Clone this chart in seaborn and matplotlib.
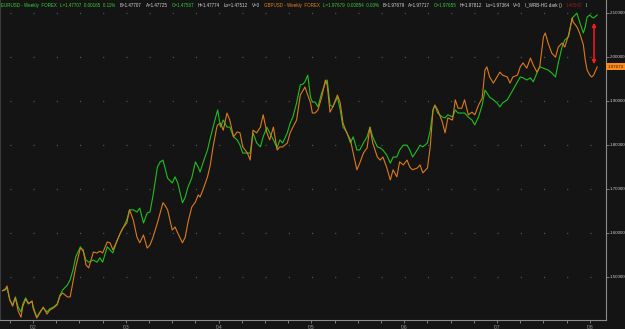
import matplotlib
matplotlib.use("Agg")
import matplotlib.pyplot as plt
import matplotlib.transforms as mtransforms
from matplotlib import font_manager
import pandas as pd
import seaborn as sns

# ---------------- data ----------------
years = [2001.67, 2001.70, 2001.72, 2001.75, 2001.78, 2001.81, 2001.84, 2001.87, 2001.89, 2001.92,
         2001.95, 2001.99, 2002.00, 2002.04, 2002.08, 2002.11, 2002.15, 2002.18, 2002.22, 2002.26,
         2002.29, 2002.32, 2002.37, 2002.40, 2002.43, 2002.46, 2002.51, 2002.54, 2002.57, 2002.60,
         2002.65, 2002.69, 2002.72, 2002.75, 2002.80, 2002.83, 2002.86, 2002.90, 2002.94, 2002.97,
         2003.01, 2003.04, 2003.08, 2003.12, 2003.15, 2003.19, 2003.23, 2003.26, 2003.29, 2003.34,
         2003.37, 2003.40, 2003.42, 2003.45, 2003.50, 2003.53, 2003.56, 2003.61, 2003.64, 2003.67,
         2003.71, 2003.75, 2003.78, 2003.80, 2003.83, 2003.88, 2003.91, 2003.94, 2003.98, 2003.99,
         2004.02, 2004.05, 2004.09, 2004.12, 2004.16, 2004.20, 2004.23, 2004.26, 2004.31, 2004.34,
         2004.37, 2004.41, 2004.45, 2004.48, 2004.52, 2004.55, 2004.59, 2004.63, 2004.66, 2004.69,
         2004.74, 2004.77, 2004.80, 2004.84, 2004.88, 2004.91, 2004.93, 2004.96, 2004.99, 2005.01,
         2005.04, 2005.07, 2005.11, 2005.15, 2005.17, 2005.20, 2005.23, 2005.28, 2005.31, 2005.34,
         2005.38, 2005.42, 2005.45, 2005.49, 2005.52, 2005.56, 2005.60, 2005.63, 2005.66, 2005.71,
         2005.74, 2005.77, 2005.81, 2005.85, 2005.88, 2005.92, 2005.95, 2005.99, 2006.03, 2006.06,
         2006.09, 2006.14, 2006.17, 2006.20, 2006.25, 2006.28, 2006.31, 2006.33, 2006.36, 2006.41,
         2006.44, 2006.47, 2006.52, 2006.55, 2006.58, 2006.62, 2006.65, 2006.69, 2006.73, 2006.76,
         2006.80, 2006.84, 2006.87, 2006.89, 2006.92, 2006.96, 2007.00, 2007.03, 2007.06, 2007.11,
         2007.14, 2007.17, 2007.22, 2007.25, 2007.28, 2007.32, 2007.36, 2007.39, 2007.43, 2007.46,
         2007.50, 2007.52, 2007.55, 2007.59, 2007.63, 2007.66, 2007.70, 2007.73, 2007.77, 2007.81,
         2007.82, 2007.86, 2007.89, 2007.93, 2007.95, 2007.97, 2008.00, 2008.02, 2008.04, 2008.08]

# EURUSD (green), shown on the same price scale as the overlay
eurusd = [1.468, 1.470, 1.474, 1.447, 1.436, 1.454, 1.431, 1.420, 1.438, 1.452,
          1.440, 1.443, 1.433, 1.408, 1.422, 1.429, 1.420, 1.427, 1.431, 1.438,
          1.458, 1.470, 1.481, 1.493, 1.515, 1.545, 1.568, 1.558, 1.538, 1.533,
          1.538, 1.533, 1.543, 1.533, 1.568, 1.561, 1.554, 1.579, 1.599, 1.611,
          1.629, 1.652, 1.652, 1.647, 1.656, 1.622, 1.645, 1.647, 1.681, 1.749,
          1.761, 1.765, 1.749, 1.724, 1.713, 1.727, 1.713, 1.668, 1.681, 1.704,
          1.724, 1.761, 1.749, 1.738, 1.758, 1.788, 1.815, 1.840, 1.872, 1.879,
          1.840, 1.856, 1.840, 1.840, 1.818, 1.811, 1.799, 1.781, 1.781, 1.781,
          1.827, 1.804, 1.795, 1.818, 1.840, 1.827, 1.811, 1.793, 1.811, 1.804,
          1.827, 1.849, 1.863, 1.895, 1.936, 1.938, 1.943, 1.958, 1.908, 1.897,
          1.897, 1.886, 1.918, 1.940, 1.947, 1.890, 1.886, 1.908, 1.879, 1.840,
          1.829, 1.804, 1.818, 1.788, 1.788, 1.804, 1.818, 1.840, 1.818, 1.795,
          1.793, 1.788, 1.777, 1.758, 1.772, 1.772, 1.788, 1.799, 1.799, 1.788,
          1.772, 1.788, 1.799, 1.795, 1.804, 1.833, 1.879, 1.890, 1.872, 1.863,
          1.861, 1.868, 1.863, 1.879, 1.872, 1.872, 1.872, 1.863, 1.856, 1.845,
          1.863, 1.890, 1.924, 1.918, 1.908, 1.902, 1.895, 1.886, 1.895, 1.902,
          1.913, 1.924, 1.943, 1.954, 1.952, 1.947, 1.952, 1.943, 1.963, 1.977,
          1.974, 1.972, 1.970, 1.963, 1.954, 1.986, 2.022, 2.038, 2.045, 2.088,
          2.090, 2.099, 2.079, 2.054, 2.068, 2.090, 2.095, 2.090, 2.088, 2.095]

# GBPUSD (orange)
gbpusd = [1.468, 1.472, 1.479, 1.447, 1.433, 1.452, 1.422, 1.408, 1.433, 1.449,
          1.438, 1.445, 1.429, 1.406, 1.420, 1.431, 1.415, 1.424, 1.429, 1.436,
          1.456, 1.463, 1.454, 1.454, 1.488, 1.522, 1.565, 1.561, 1.527, 1.520,
          1.556, 1.554, 1.558, 1.554, 1.579, 1.577, 1.561, 1.579, 1.599, 1.611,
          1.622, 1.652, 1.629, 1.590, 1.577, 1.595, 1.565, 1.572, 1.588, 1.622,
          1.645, 1.668, 1.663, 1.652, 1.606, 1.613, 1.599, 1.577, 1.590, 1.624,
          1.658, 1.670, 1.686, 1.681, 1.697, 1.727, 1.754, 1.795, 1.840, 1.845,
          1.849, 1.833, 1.872, 1.856, 1.818, 1.829, 1.827, 1.795, 1.781, 1.765,
          1.833, 1.827, 1.840, 1.868, 1.827, 1.811, 1.840, 1.788, 1.795, 1.795,
          1.804, 1.827, 1.840, 1.856, 1.913, 1.924, 1.931, 1.913, 1.895, 1.872,
          1.872, 1.879, 1.908, 1.947, 1.936, 1.874, 1.886, 1.913, 1.895, 1.849,
          1.827, 1.811, 1.781, 1.743, 1.758, 1.781, 1.793, 1.840, 1.804, 1.772,
          1.765, 1.772, 1.749, 1.720, 1.743, 1.727, 1.761, 1.754, 1.765, 1.749,
          1.743, 1.747, 1.754, 1.736, 1.747, 1.795, 1.879, 1.890, 1.879, 1.852,
          1.827, 1.861, 1.856, 1.902, 1.883, 1.883, 1.902, 1.868, 1.874, 1.868,
          1.890, 1.906, 1.970, 1.977, 1.954, 1.940, 1.954, 1.965, 1.958, 1.954,
          1.940, 1.954, 1.958, 1.977, 1.986, 1.974, 1.997, 1.981, 1.965, 1.977,
          2.045, 2.054, 2.031, 2.008, 1.999, 2.022, 2.031, 2.022, 2.049, 2.088,
          2.079, 2.068, 2.054, 2.027, 1.993, 1.970, 1.958, 1.954, 1.958, 1.977]

price_ticks = [1.5, 1.6, 1.7, 1.8, 1.9, 2.0, 2.1]
year_ticks = [2002, 2003, 2004, 2005, 2006, 2007, 2008]
year_labels = ["'02", "'03", "'04", "'05", "'06", "'07", "'08"]
last_price = 1.97679
last_label = "1.97679"
arrow_year = 2008.045
arrow_top = 2.077
arrow_bottom = 1.983

header = [
    ("EURUSD - Weekly  FOREX", "green"),
    ("L=1.47707  0.00165  0.11%", "green"),
    ("B=1.47707", "white"),
    ("A=1.47725", "white"),
    ("O=1.47567", "green"),
    ("H=1.47774", "white"),
    ("Lo=1.47512", "white"),
    ("V=0", "white"),
    ("GBPUSD - Weekly  FOREX", "orange"),
    ("L=1.97679  0.00854  0.03%", "green"),
    ("B=1.97679", "white"),
    ("A=1.97717", "white"),
    ("O=1.97655", "green"),
    ("H=1.97812", "white"),
    ("Lo=1.97364", "white"),
    ("V=0", "white"),
    ("I_WRB-HG dark ()", "white"),
    ("1.46542", "red"),
    ("I.", "white"),
]

# ---------------- style ----------------
BG = "#141414"
GREEN = "#1fc01f"
ORANGE = "#dc7a1c"
AXIS_GREY = "#8c8c8c"
TEXT_COL = {"green": "#38d038", "white": "#d6d6d6", "orange": "#e8801e", "red": "#8e1e1e"}

sns.set_theme(style="dark")
names = {f.name for f in font_manager.fontManager.ttflist}
if "Liberation Sans Narrow" in names:
    FONT = ["Liberation Sans Narrow", "DejaVu Sans"]
else:
    FONT = ["Liberation Sans", "DejaVu Sans"]
plt.rcParams["font.family"] = FONT
plt.rcParams["lines.scale_dashes"] = False
FS = 3.6
FS_Y = 3.2

W, H = 625, 329
fig = plt.figure(figsize=(W / 100, H / 100), dpi=100, facecolor=BG)
ax = fig.add_axes([0, 9 / H, 606 / W, 320 / H])
ax.set_facecolor(BG)

df = pd.DataFrame({"year": years, "EURUSD": eurusd, "GBPUSD": gbpusd})
sns.lineplot(data=df, x="year", y="EURUSD", color=GREEN, lw=0.8, ax=ax)
sns.lineplot(data=df, x="year", y="GBPUSD", color=ORANGE, lw=0.8, ax=ax)
ax.set_xlabel("")
ax.set_ylabel("")
ax.grid(False)

# right price axis
ax.yaxis.tick_right()
ax.set_yticks(price_ticks)
ax.set_yticklabels([f"{t:.5f}" for t in price_ticks])
ax.tick_params(axis="y", which="both", right=True, left=False, length=2, width=0.6,
               color=AXIS_GREY, labelsize=FS_Y, labelcolor="#d0d0d0", pad=0.8)

# time axis
ax.set_xticks(year_ticks)
ax.set_xticklabels(year_labels)
ax.set_xticks([y + q for y in range(2001, 2009) for q in (0.25, 0.5, 0.75)], minor=True)
ax.tick_params(axis="x", which="both", bottom=True, length=2.5, width=0.6,
               color=AXIS_GREY, labelsize=FS, labelcolor="#9a9a9a", pad=1)

# limits set after the ticks so they are not widened
X0, X1 = 2001.644, 2008.174
ax.set_xlim(X0, X1)
ax.set_ylim(1.4016, 2.1289)

# dotted grid: dots at quarter / price-level intersections
px_per_year = 606 / (X1 - X0)
period_pt = px_per_year / 4 * 0.72
first_pt = (2001.75 - X0) * px_per_year * 0.72
for t in price_ticks:
    ax.axhline(t, color="#5a5a5a", lw=0.9,
               linestyle=(period_pt - first_pt, (0.8, period_pt - 0.8)), zorder=0)

ax.spines["top"].set_visible(False)
for side in ("right", "bottom", "left"):
    ax.spines[side].set_visible(True)
    ax.spines[side].set_color(AXIS_GREY)
    ax.spines[side].set_linewidth(0.8)
ax.spines["left"].set_color("#3a3a3a")

# red double-headed arrow
ax.annotate("", xy=(arrow_year, arrow_bottom), xytext=(arrow_year, arrow_top),
            arrowprops=dict(arrowstyle="<|-|>", color="#ff1a1a", lw=1.1,
                            mutation_scale=5, shrinkA=0, shrinkB=0))

# last price marker on the right axis
trans = mtransforms.blended_transform_factory(ax.transAxes, ax.transData)
ax.text(1.003, last_price, last_label, transform=trans, ha="left", va="center",
        fontsize=FS_Y, color="#1a1a1a", clip_on=False,
        bbox=dict(boxstyle="square,pad=0.35", fc="#ff8a1c", ec="none"))

# header line: pieces laid out one after another, font sized to span the width
GAP = 3.5
TARGET_END = 588.0
texts = [fig.text(0, 1 - 5.5 / H, txt, ha="left", va="center", fontsize=4.0,
                  color=TEXT_COL[col]) for txt, col in header]
renderer = fig.canvas.get_renderer()
widths = [t.get_window_extent(renderer).width for t in texts]
scale = (TARGET_END - 1 - GAP * (len(texts) - 1)) / sum(widths)
xpos = 1.0
for t, w in zip(texts, widths):
    t.set_fontsize(4.0 * scale)
    t.set_x(xpos / W)
    xpos += w * scale + GAP

fig.savefig("out.png", dpi=100, facecolor=BG)
